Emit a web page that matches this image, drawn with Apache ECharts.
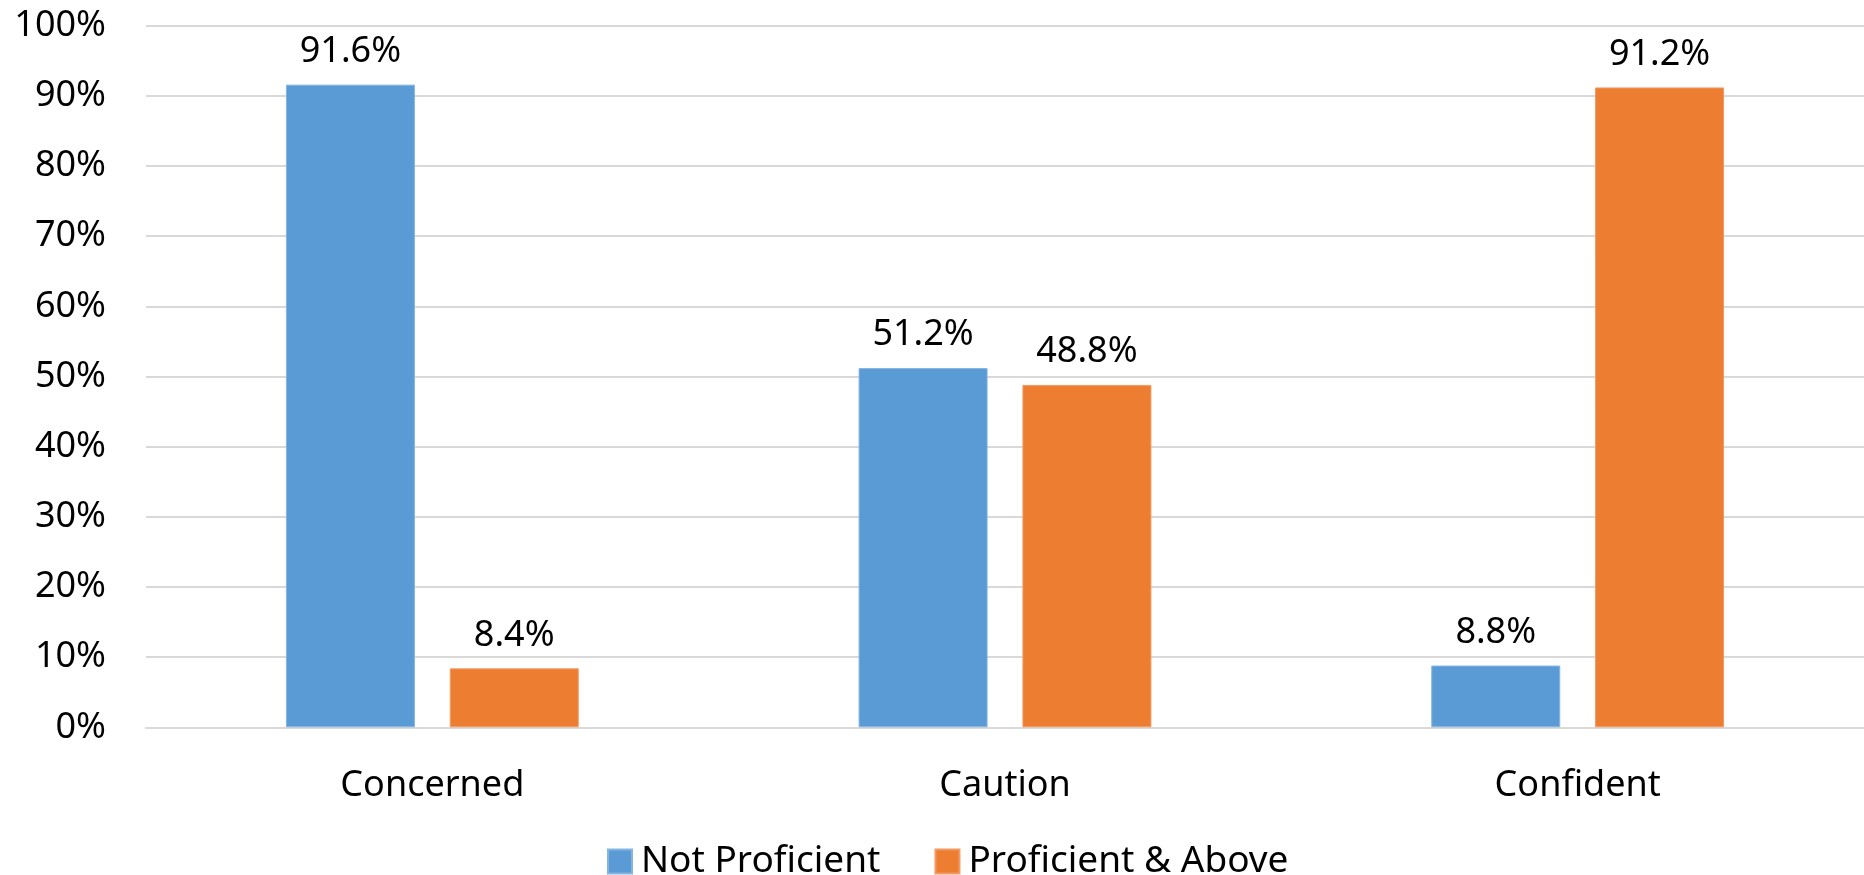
<!DOCTYPE html>
<html>
<head>
<meta charset="utf-8">
<title>Proficiency by Group</title>
<script src="https://cdn.jsdelivr.net/npm/echarts@6/dist/echarts.min.js"></script>
<style>
  html, body { margin: 0; padding: 0; background: #ffffff; }
  #chart { width: 1864px; height: 875px; }
</style>
</head>
<body>
<div id="chart"></div>
<script>
// Share of students in each group, by proficiency level (percent)
const categories = ['Concerned', 'Caution', 'Confident'];
const notProficient = [91.6, 51.2, 8.8];
const proficientAbove = [8.4, 48.8, 91.2];
const seriesNames = ['Not Proficient', 'Proficient & Above'];

const FONT = "'Noto Sans', 'Open Sans', sans-serif";
const BLUE = '#5B9BD5';
const ORANGE = '#ED7D31';

const chart = echarts.init(document.getElementById('chart'), null, { renderer: 'canvas' });

function barSeries(name, data, color, border) {
  return {
    name: name,
    type: 'bar',
    data: data,
    barWidth: 129,
    barGap: '27%',
    itemStyle: { color: color, borderColor: border, borderWidth: 1 },
    label: {
      show: true,
      position: 'top',
      distance: 15,
      formatter: '{c}%',
      color: '#000000',
      fontFamily: FONT,
      fontSize: 36
    },
    emphasis: { disabled: true }
  };
}

chart.setOption({
  animation: false,
  backgroundColor: '#ffffff',
  grid: { left: 146, top: 25.7, width: 1723, height: 701.6, containLabel: false },
  legend: {
    data: seriesNames,
    left: 602,
    top: 838,
    itemWidth: 24,
    itemHeight: 24,
    itemGap: 54,
    icon: 'rect',
    textStyle: { color: '#000000', fontFamily: FONT, fontSize: 37, padding: [0, 0, 0, 4] }
  },
  xAxis: {
    type: 'category',
    data: categories,
    axisLine: { show: true, lineStyle: { color: '#d9d9d9', width: 2 } },
    axisTick: { show: false },
    axisLabel: { color: '#000000', fontFamily: FONT, fontSize: 36, margin: 40 },
    splitLine: { show: false }
  },
  yAxis: {
    type: 'value',
    min: 0,
    max: 100,
    interval: 10,
    axisLine: { show: false },
    axisTick: { show: false },
    axisLabel: { color: '#000000', fontFamily: FONT, fontSize: 36, margin: 40, formatter: '{value}%' },
    splitLine: { lineStyle: { color: '#d9d9d9', width: 2 } }
  },
  series: [
    barSeries(seriesNames[0], notProficient, BLUE, '#86b5e1'),
    barSeries(seriesNames[1], proficientAbove, ORANGE, '#f29a63')
  ]
});
</script>
</body>
</html>
